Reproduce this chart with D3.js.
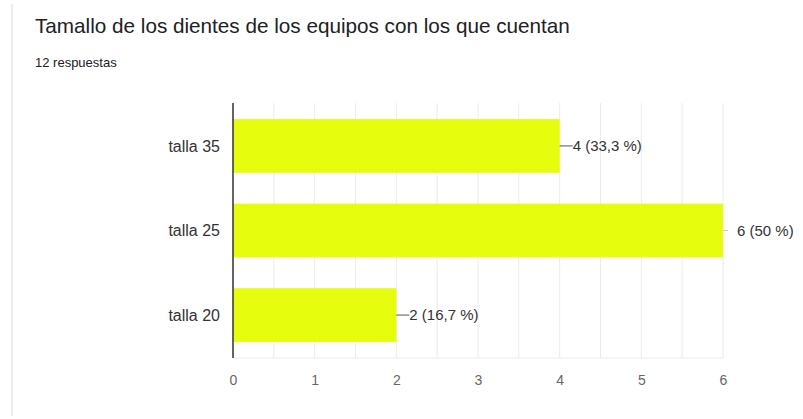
<!DOCTYPE html>
<html>
<head>
<meta charset="utf-8">
<script src="https://cdn.jsdelivr.net/npm/d3@7"></script>
<style>
  body { margin: 0; background: #fff; font-family: "Liberation Sans", Arial, sans-serif; }
</style>
</head>
<body>
<svg id="chart" width="803" height="419"></svg>
<script>
// datos
var categorias = ["talla 35", "talla 25", "talla 20"];
var valores = [4, 6, 2];
var etiquetas = ["4 (33,3 %)", "6 (50 %)", "2 (16,7 %)"];
var ticks = [0, 1, 2, 3, 4, 5, 6];
var gridTicks = [0, 0.5, 1, 1.5, 2, 2.5, 3, 3.5, 4, 4.5, 5, 5.5, 6];

var fuente = "'Liberation Sans', Arial, sans-serif";
var svg = d3.select("#chart").attr("font-family", fuente),
    plotL = 233, plotR = 723, plotT = 103, plotB = 358;

// borde de la tarjeta
svg.append("rect")
    .attr("x", 11).attr("y", 4).attr("width", 2).attr("height", 412)
    .attr("fill", "#ececec");

svg.append("text")
    .attr("x", 35).attr("y", 33)
    .attr("font-size", 20.7)
    .attr("fill", "#202124")
    .text("Tamallo de los dientes de los equipos con los que cuentan");

svg.append("text")
    .attr("x", 35).attr("y", 67)
    .attr("font-size", 13)
    .attr("fill", "#202124")
    .text("12 respuestas");

var x = d3.scaleLinear().domain([0, 6]).range([plotL, plotR]);
var y = d3.scaleBand().domain(categorias).range([plotT, plotB]).paddingInner(0.365).paddingOuter(0.19);

// rejilla
svg.append("g").selectAll("line")
    .data(gridTicks)
    .enter().append("line")
    .attr("x1", function (d) { return x(d); })
    .attr("x2", function (d) { return x(d); })
    .attr("y1", plotT).attr("y2", plotB)
    .attr("stroke", "#ebebeb");

svg.append("line")
    .attr("x1", plotL).attr("x2", plotR)
    .attr("y1", plotB).attr("y2", plotB)
    .attr("stroke", "#ebebeb");

// barras
svg.append("g").selectAll("rect")
    .data(valores)
    .enter().append("rect")
    .attr("x", x(0))
    .attr("y", function (d, i) { return y(categorias[i]); })
    .attr("width", function (d) { return x(d) - x(0); })
    .attr("height", y.bandwidth())
    .attr("fill", "#e6fd0e");

// eje vertical
svg.append("line")
    .attr("x1", plotL).attr("x2", plotL)
    .attr("y1", plotT).attr("y2", plotB)
    .attr("stroke", "#333").attr("stroke-width", 1.5);

// etiquetas de categorias
svg.append("g").selectAll("text")
    .data(categorias)
    .enter().append("text")
    .attr("x", 220)
    .attr("y", function (d) { return y(d) + y.bandwidth() / 2; })
    .attr("dy", "0.35em")
    .attr("text-anchor", "end")
    .attr("font-size", 16)
    .attr("fill", "#333")
    .text(function (d) { return d; });

// eje x
var xAxis = svg.append("g")
    .attr("transform", "translate(0," + (plotB + 19) + ")")
    .call(d3.axisBottom(x).tickValues(ticks).tickSize(0).tickFormat(d3.format("d")));
xAxis.select(".domain").remove();
xAxis.selectAll("text")
    .attr("font-family", fuente)
    .attr("font-size", 14)
    .attr("fill", "#666")
    .attr("dy", "0.35em");

// lineas guia y etiquetas de valor
var lab = svg.append("g").selectAll("g")
    .data(valores)
    .enter().append("g");

lab.append("line")
    .attr("x1", function (d) { return x(d); })
    .attr("x2", function (d) { return x(d) + (d === 6 ? 5 : 13); })
    .attr("y1", function (d, i) { return y(categorias[i]) + y.bandwidth() / 2; })
    .attr("y2", function (d, i) { return y(categorias[i]) + y.bandwidth() / 2; })
    .attr("stroke", function (d) { return d === 6 ? "#ccc" : "#555"; });

lab.append("text")
    .attr("x", function (d) { return x(d) + (d === 6 ? 14 : 13); })
    .attr("y", function (d, i) { return y(categorias[i]) + y.bandwidth() / 2; })
    .attr("dy", "0.35em")
    .attr("font-size", 15)
    .attr("fill", "#333")
    .text(function (d, i) { return etiquetas[i]; });
</script>
</body>
</html>
